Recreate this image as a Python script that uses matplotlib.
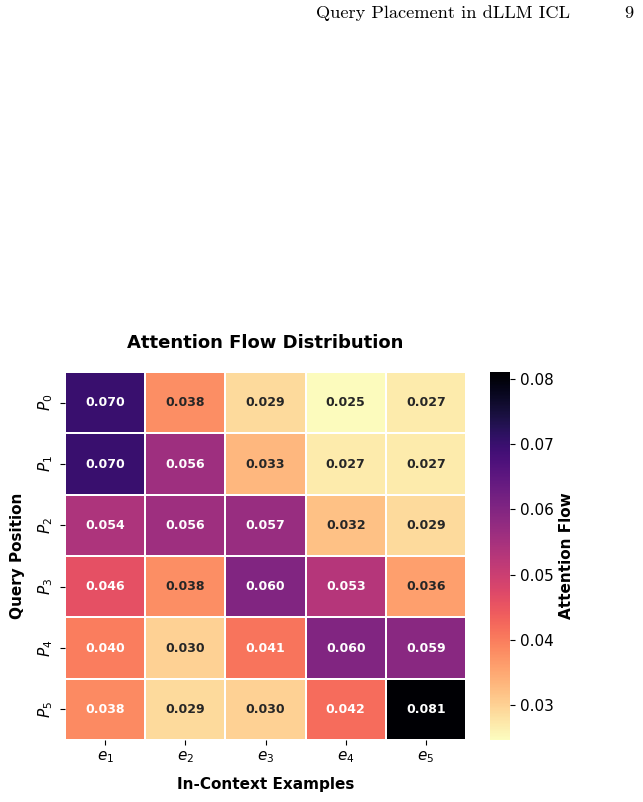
import matplotlib
matplotlib.use("Agg")
import matplotlib.pyplot as plt
import numpy as np
import seaborn as sns

rows = ["$P_0$", "$P_1$", "$P_2$", "$P_3$", "$P_4$", "$P_5$"]
cols = ["$e_1$", "$e_2$", "$e_3$", "$e_4$", "$e_5$"]
p0 = [0.070, 0.038, 0.029, 0.025, 0.027]
p1 = [0.070, 0.056, 0.033, 0.027, 0.027]
p2 = [0.054, 0.056, 0.057, 0.032, 0.029]
p3 = [0.046, 0.038, 0.060, 0.053, 0.036]
p4 = [0.040, 0.030, 0.041, 0.060, 0.059]
p5 = [0.0385, 0.029, 0.030, 0.042, 0.081]
values = np.array([p0, p1, p2, p3, p4, p5])

fig = plt.figure(figsize=(6.43, 8.02), dpi=100)
ax = fig.add_axes([65/643, 1-740/802, (466-65)/643, (740-372)/802])
cax = fig.add_axes([490/643, 1-740/802, 20/643, (740-372)/802])

sns.heatmap(values, ax=ax, cbar_ax=cax, cmap="magma_r", vmin=0.0246, vmax=0.0811,
            annot=True, fmt=".3f", annot_kws={"fontsize": 9, "fontweight": "bold"},
            linewidths=1.1, linecolor="white",
            xticklabels=cols, yticklabels=rows,
            cbar_kws={"label": "Attention Flow"})

ax.set_title("Attention Flow Distribution", fontsize=13, fontweight="bold", pad=17)
ax.set_xlabel("In-Context Examples", fontsize=11, fontweight="bold", labelpad=8)
ax.set_ylabel("Query Position", fontsize=11, fontweight="bold", labelpad=8)
ax.tick_params(axis="x", labelsize=11)
ax.tick_params(axis="y", labelsize=11)
for t in ax.get_yticklabels():
    t.set_rotation(90)
    t.set_va("center")

cax.tick_params(labelsize=11)
cax.set_ylabel("Attention Flow", fontsize=11, fontweight="bold")

fig.text(570/643, 1-18/802, "Query Placement in dLLM ICL", family="cmr10",
         fontsize=13.2, ha="right", va="baseline")
fig.text(633/643, 1-18/802, "9", family="cmr10", fontsize=13.2, ha="right", va="baseline")

fig.savefig("out.png", dpi=100)
